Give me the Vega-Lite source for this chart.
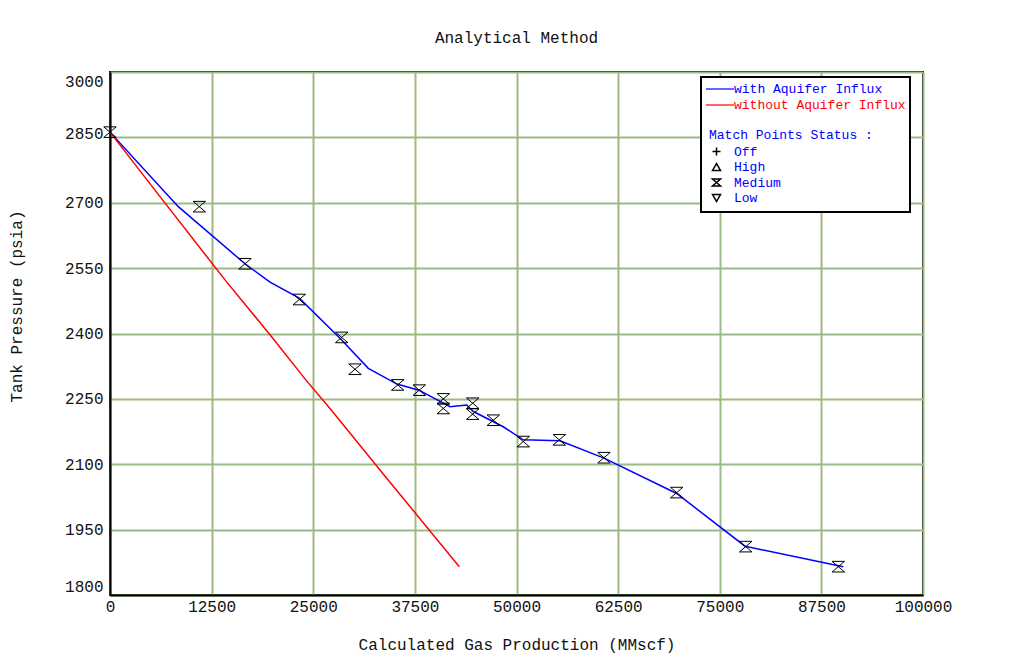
{
  "$schema": "https://vega.github.io/schema/vega-lite/v6.json",
  "width": 813,
  "height": 523,
  "autosize": "none",
  "padding": {"left": 110, "top": 72, "right": 92, "bottom": 63},
  "background": "white",
  "title": {"text": "Analytical Method", "font": "Liberation Mono", "fontSize": 16, "fontWeight": "normal", "color": "#111", "offset": 26, "anchor": "middle"},
  "datasets": {
    "lines": [
      {"series": "with Aquifer Influx", "x": 0, "p": 2862},
      {"series": "with Aquifer Influx", "x": 8401, "p": 2691},
      {"series": "with Aquifer Influx", "x": 16605, "p": 2560},
      {"series": "with Aquifer Influx", "x": 19680, "p": 2518},
      {"series": "with Aquifer Influx", "x": 23284, "p": 2481},
      {"series": "with Aquifer Influx", "x": 28290, "p": 2389},
      {"series": "with Aquifer Influx", "x": 31771, "p": 2320},
      {"series": "with Aquifer Influx", "x": 35301, "p": 2284},
      {"series": "with Aquifer Influx", "x": 38007, "p": 2270},
      {"series": "with Aquifer Influx", "x": 41820, "p": 2232},
      {"series": "with Aquifer Influx", "x": 43874, "p": 2236},
      {"series": "with Aquifer Influx", "x": 44686, "p": 2221},
      {"series": "with Aquifer Influx", "x": 48376, "p": 2186},
      {"series": "with Aquifer Influx", "x": 50836, "p": 2156},
      {"series": "with Aquifer Influx", "x": 55350, "p": 2154},
      {"series": "with Aquifer Influx", "x": 60762, "p": 2114},
      {"series": "with Aquifer Influx", "x": 69704, "p": 2033},
      {"series": "with Aquifer Influx", "x": 78105, "p": 1912},
      {"series": "with Aquifer Influx", "x": 90196, "p": 1865},
      {"series": "without Aquifer Influx", "x": 0, "p": 2862},
      {"series": "without Aquifer Influx", "x": 6150, "p": 2714},
      {"series": "without Aquifer Influx", "x": 14145, "p": 2523},
      {"series": "without Aquifer Influx", "x": 19680, "p": 2397},
      {"series": "without Aquifer Influx", "x": 24108, "p": 2293},
      {"series": "without Aquifer Influx", "x": 27060, "p": 2228},
      {"series": "without Aquifer Influx", "x": 34034, "p": 2068},
      {"series": "without Aquifer Influx", "x": 42964, "p": 1865}
    ],
    "points": [
      {"x": 0, "p": 2862, "status": "Medium"},
      {"x": 10984, "p": 2691, "status": "Medium"},
      {"x": 16605, "p": 2560, "status": "Medium"},
      {"x": 23284, "p": 2478, "status": "Medium"},
      {"x": 28500, "p": 2391, "status": "Medium"},
      {"x": 30135, "p": 2318, "status": "Medium"},
      {"x": 35387, "p": 2282, "status": "Medium"},
      {"x": 38044, "p": 2270, "status": "Medium"},
      {"x": 40996, "p": 2250, "status": "Medium"},
      {"x": 40996, "p": 2228, "status": "Medium"},
      {"x": 44612, "p": 2240, "status": "Medium"},
      {"x": 44612, "p": 2215, "status": "Medium"},
      {"x": 47146, "p": 2201, "status": "Medium"},
      {"x": 50836, "p": 2152, "status": "Medium"},
      {"x": 55264, "p": 2156, "status": "Medium"},
      {"x": 60762, "p": 2115, "status": "Medium"},
      {"x": 69704, "p": 2035, "status": "Medium"},
      {"x": 78192, "p": 1911, "status": "Medium"},
      {"x": 89581, "p": 1865, "status": "Medium"}
    ]
  },
  "layer": [
    {
      "data": {"name": "lines"},
      "mark": {"type": "line", "strokeWidth": 1.5, "clip": true},
      "encoding": {
        "x": {"field": "x", "type": "quantitative", "title": "Calculated Gas Production (MMscf)",
              "scale": {"domain": [0, 100000], "nice": false, "zero": false},
              "axis": {"values": [0, 12500, 25000, 37500, 50000, 62500, 75000, 87500, 100000], "format": "d", "labelFlush": false}},
        "y": {"field": "p", "type": "quantitative", "title": "Tank Pressure (psia)",
              "scale": {"domain": [1800, 3000], "nice": false, "zero": false},
              "axis": {"values": [1800, 1950, 2100, 2250, 2400, 2550, 2700, 2850, 3000], "format": "d", "labelFlush": false, "titleY": 234,
                       "labelOffset": {"expr": "datum.value == 3000 ? 9 : datum.value == 1800 ? -9 : datum.value == 2850 ? -4 : 0"}}},
        "color": {"field": "series", "type": "nominal",
                  "scale": {"domain": ["with Aquifer Influx", "without Aquifer Influx", "_pad1", "_pad2", "_pad3", "_pad4", "_pad5", "_pad6"],
                            "range": ["#0000ff", "#ff0000", "transparent", "transparent", "transparent", "transparent", "transparent", "transparent"]},
                  "legend": {"title": null, "orient": "none", "legendX": 591, "legendY": 5, "zindex": 1,
                             "symbolType": "M-1,0L3,0", "symbolSize": 196, "symbolStrokeWidth": 1.2,
                             "labelOffset": 13, "padding": 4, "rowPadding": 1,
                             "labelFont": "Liberation Mono", "labelFontSize": 13, "labelLimit": 400,
                             "labelExpr": "indexof(datum.label, '_pad') == 0 ? '' : datum.label",
                             "labelColor": {"expr": "datum.label == 'without Aquifer Influx' ? '#ff0000' : '#0000ff'"},
                             "strokeColor": "#000", "fillColor": "white"}}
      }
    },
    {
      "data": {"name": "points"},
      "mark": {"type": "point", "filled": false, "color": "black", "strokeWidth": 1, "size": 156, "opacity": 1},
      "encoding": {
        "x": {"field": "x", "type": "quantitative"},
        "y": {"field": "p", "type": "quantitative"},
        "shape": {"field": "status", "type": "nominal",
                  "scale": {"domain": ["Off", "High", "Medium", "Low"],
                            "range": ["M-1,0L1,0M0,-1L0,1", "triangle-up", "M-1,-0.85L1,-0.85L-1,0.85L1,0.85Z", "triangle-down"]},
                  "legend": {"title": "Match Points Status :",
                             "orient": "none", "legendX": 599, "legendY": 57, "zindex": 2,
                             "titleFont": "Liberation Mono", "titleFontSize": 13, "titleFontWeight": "normal", "titleColor": "#0000ff",
                             "titlePadding": 3, "titleLimit": 400,
                             "symbolSize": 64, "symbolStrokeColor": "black", "symbolStrokeWidth": 1.5, "symbolFillColor": "transparent",
                             "symbolOffset": 1, "labelOffset": 11, "padding": 0, "rowPadding": 1.5,
                             "labelFont": "Liberation Mono", "labelFontSize": 13, "labelColor": "#0000ff",
                             "strokeColor": "transparent", "fillColor": "transparent"}}
      }
    }
  ],
  "config": {
    "view": {"stroke": "#000", "strokeWidth": 2},
    "legend": {"strokeWidth": 2},
    "axis": {
      "labelFont": "Liberation Mono", "labelFontSize": 16, "labelColor": "#111",
      "titleFont": "Liberation Mono", "titleFontSize": 16, "titleFontWeight": "normal", "titleColor": "#111",
      "grid": true, "gridColor": "#9cbb84", "gridWidth": 2, "gridOpacity": 1,
      "ticks": false, "domainColor": "#000", "domainWidth": 2
    },
    "axisX": {"labelPadding": 3, "titlePadding": 22, "labelAngle": 0},
    "axisY": {"labelPadding": 7, "titlePadding": 40}
  }
}
